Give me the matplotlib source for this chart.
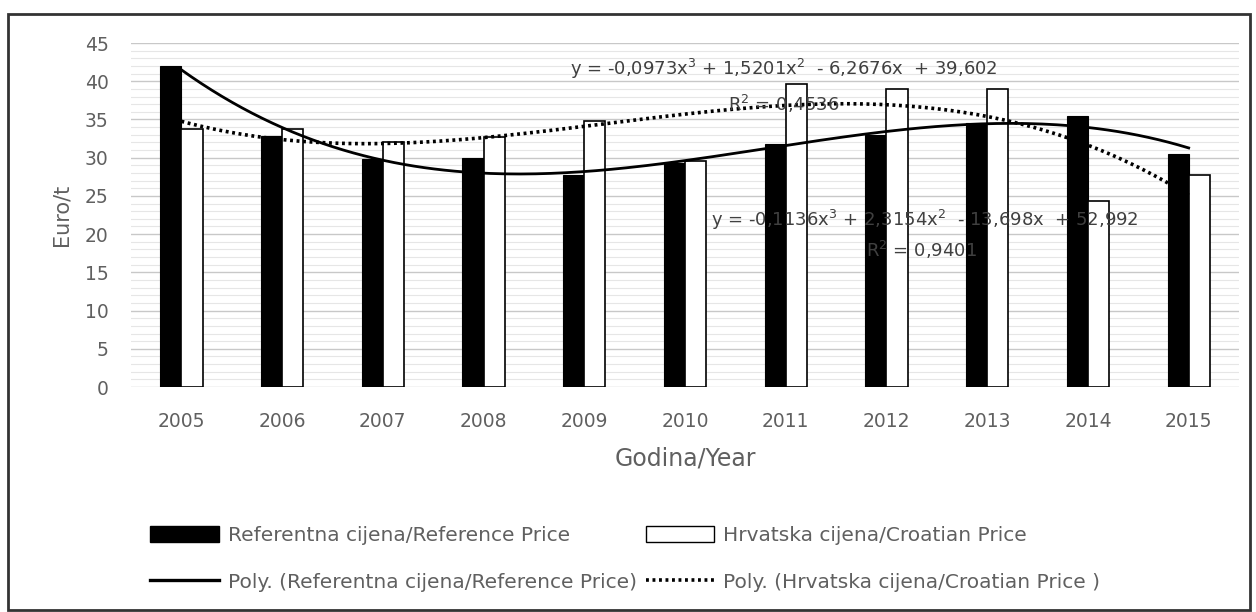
import numpy as np
import matplotlib as mpl
import matplotlib.pyplot as plt
from matplotlib.patches import Rectangle
from matplotlib.lines import Line2D

plt.rcParams['font.family'] = ['DejaVu Sans']

# podaci očitani sa slike
godine = ['2005', '2006', '2007', '2008', '2009', '2010',
          '2011', '2012', '2013', '2014', '2015']
referentna = [42.0, 32.8, 29.8, 30.0, 27.7, 29.3, 31.8, 33.0, 34.5, 35.4, 30.5]
hrvatska = [33.8, 33.8, 32.0, 32.7, 34.8, 29.6, 39.7, 39.0, 39.0, 24.3, 27.7]

# koeficijenti trendova (x = 1..11), s grafikona
koef_ref = [-0.1136, 2.3154, -13.698, 52.992]
koef_hr = [-0.0973, 1.5201, -6.2676, 39.602]
jedn_ref = 'y = -0,1136x$^3$ + 2,3154x$^2$  - 13,698x  + 52,992'
r2_ref = 'R$^2$ = 0,9401'
jedn_hr = 'y = -0,0973x$^3$ + 1,5201x$^2$  - 6,2676x  + 39,602'
r2_hr = 'R$^2$ = 0,4536'

siva = '#606060'
x = np.arange(len(godine))
w = 0.21

fig = plt.figure(figsize=(12.56, 6.12), dpi=100)
ax = fig.add_axes([0.1043, 0.3676, 0.8822, 0.5621])

ax.bar(x - w / 2, referentna, w, color='black', edgecolor='black', linewidth=0.8, zorder=3)
ax.bar(x + w / 2, hrvatska, w, color='white', edgecolor='black', linewidth=1.2, zorder=3)

# polinomni trendovi 3. stupnja
xx = np.linspace(0, len(godine) - 1, 200)
ax.plot(xx, np.polyval(koef_ref, xx + 1), color='black', lw=2.0, zorder=4)
ax.plot(xx, np.polyval(koef_hr, xx + 1), color='black', lw=2.6,
        linestyle=(0, (0.8, 1.0)), dash_capstyle='butt', zorder=4)

ax.set_xlim(-0.5, len(godine) - 0.5)
ax.set_ylim(0, 45)
ax.set_yticks(range(0, 46, 5))
ax.set_yticks(range(0, 46, 1), minor=True)
ax.set_xticks(x)
ax.set_xticklabels(godine)
ax.grid(axis='y', which='major', color='#c8c8c8', lw=1.0, zorder=0)
ax.grid(axis='y', which='minor', color='#e6e6e6', lw=0.8, zorder=0)
ax.set_axisbelow(True)
for s in ax.spines.values():
    s.set_visible(False)
ax.tick_params(axis='both', which='both', length=0, colors=siva, labelsize=13.5)
ax.tick_params(axis='y', pad=16)
ax.tick_params(axis='x', pad=18)
ax.set_ylabel('Euro/t', color=siva, fontsize=15, labelpad=10)
ax.set_xlabel('Godina/Year', color=siva, fontsize=17, labelpad=11)

# jednadžbe trendova
tc = '#404040'
ax.text(5.98, 41.6, jedn_hr, ha='center', va='center', fontsize=13, color=tc, zorder=5)
ax.text(5.98, 37.0, r2_hr, ha='center', va='center', fontsize=13, color=tc, zorder=5)
ax.text(7.38, 21.8, jedn_ref, ha='center', va='center', fontsize=13, color=tc, zorder=5)
ax.text(7.35, 17.9, r2_ref, ha='center', va='center', fontsize=13, color=tc, zorder=5)

handles = [
    Rectangle((0, 0), 1, 1, facecolor='black', edgecolor='black'),
    Line2D([], [], color='black', lw=2.4),
    Rectangle((0, 0), 1, 1, facecolor='white', edgecolor='black'),
    Line2D([], [], color='black', lw=2.6, linestyle=(0, (0.8, 1.0))),
]
labels = ['Referentna cijena/Reference Price',
          'Poly. (Referentna cijena/Reference Price)',
          'Hrvatska cijena/Croatian Price',
          'Poly. (Hrvatska cijena/Croatian Price )']
leg = fig.legend(handles, labels, ncol=2, loc='upper left',
                 bbox_to_anchor=(0.1134, 0.1540), frameon=False,
                 fontsize=14.5, handlelength=3.38, handleheight=0.85,
                 handletextpad=0.45, columnspacing=0.45, labelspacing=1.38,
                 borderaxespad=0)
for t in leg.get_texts():
    t.set_color(siva)

# okvir oko grafikona
fig.patches.append(Rectangle((0.0064, 0.003), 0.989, 0.974, transform=fig.transFigure,
                             fill=False, edgecolor='#333333', lw=2.0))

fig.savefig('out.png', dpi=100)
